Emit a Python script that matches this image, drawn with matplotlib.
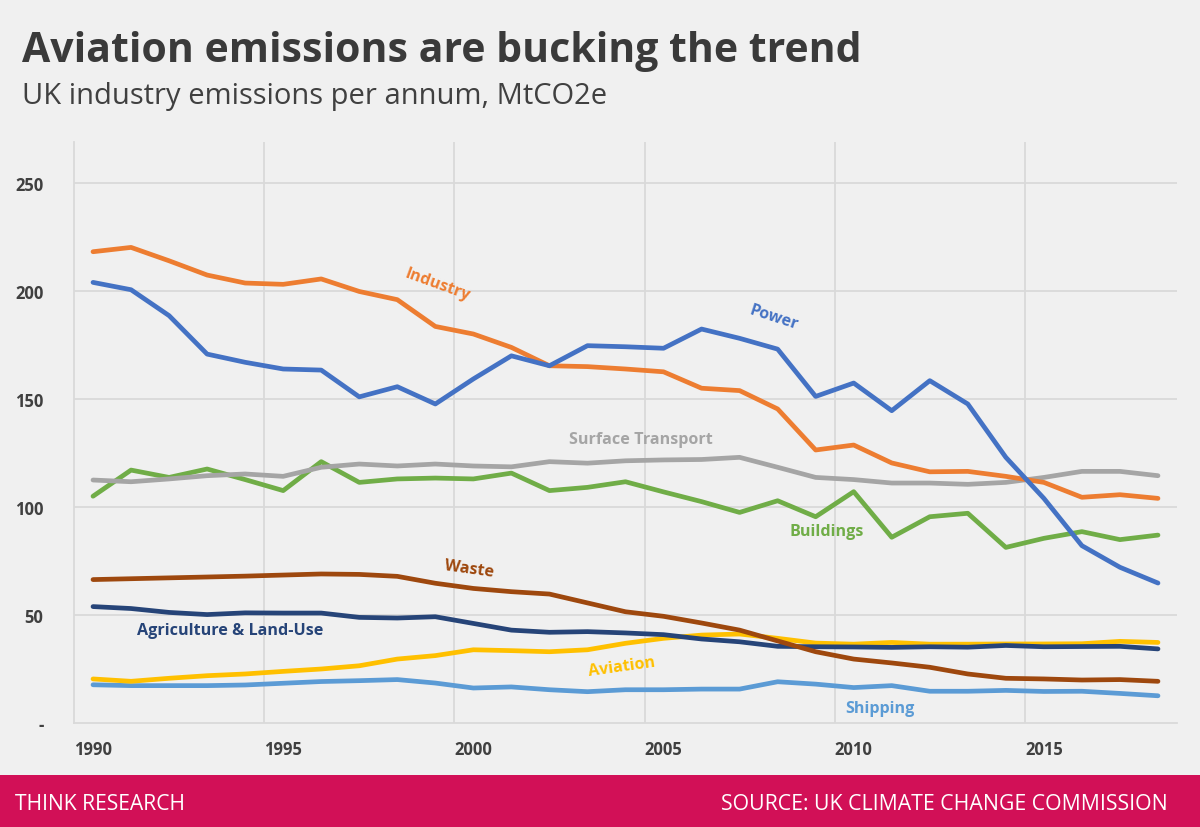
import matplotlib
matplotlib.use("Agg")
import matplotlib.pyplot as plt
from matplotlib.patches import Rectangle

# Data (MtCO2e)
years = list(range(1990, 2019))

industry = [218.2, 220.2, 214, 207.4, 203.7, 203.1, 205.6, 199.8, 196, 183.6,
            180.1, 173.9, 165.4, 165, 163.9, 162.6, 155, 153.9, 145.4, 126.4,
            128.7, 120.4, 116.3, 116.5, 114.2, 111.4, 104.5, 105.7, 104]
power = [204, 200.6, 188.6, 170.8, 167, 163.9, 163.4, 151, 155.7, 147.7,
         159.3, 170, 165.4, 174.7, 174.2, 173.5, 182.4, 178.1, 173.1, 151.2,
         157.4, 144.6, 158.5, 147.7, 123, 104, 82.1, 72.1, 64.8]
surface_transport = [112.5, 111.7, 113, 114.5, 115.3, 114.2, 118.4, 119.9, 119, 119.9,
                     119, 118.6, 121, 120.3, 121.4, 121.8, 122, 123, 118.4, 113.7,
                     112.7, 111.1, 111.1, 110.5, 111.4, 113.7, 116.5, 116.5, 114.5]
buildings = [105, 117.1, 113.7, 117.6, 112.7, 107.6, 121, 111.4, 113, 113.4,
             113, 115.7, 107.6, 109.1, 111.7, 107, 102.5, 97.5, 102.9, 95.5,
             107.1, 86, 95.5, 97.1, 81.3, 85.5, 88.6, 84.9, 87]
waste = [66.4, 66.8, 67.2, 67.6, 68, 68.5, 69, 68.8, 67.9, 64.7,
         62.3, 60.8, 59.7, 55.6, 51.5, 49.4, 46.3, 43, 38, 33,
         29.6, 27.8, 25.8, 22.7, 20.7, 20.4, 19.9, 20.1, 19.3]
agriculture = [53.9, 53, 51.2, 50.2, 51, 50.9, 50.9, 48.9, 48.6, 49.2,
               46.1, 43, 42, 42.3, 41.7, 40.9, 38.9, 37.6, 35.5, 35.3,
               35.2, 35, 35.3, 35.1, 35.9, 35.3, 35.4, 35.5, 34.3]
aviation = [20.4, 19.3, 20.7, 21.9, 22.7, 23.9, 25, 26.5, 29.6, 31.2,
            33.9, 33.5, 33, 33.9, 36.9, 39.2, 40.7, 41.2, 39.2, 37,
            36.5, 37.3, 36.5, 36.5, 36.6, 36.6, 36.7, 37.8, 37.3]
shipping = [17.7, 17.3, 17.3, 17.3, 17.6, 18.4, 19.2, 19.6, 20.1, 18.5,
            16.2, 16.7, 15.4, 14.5, 15.4, 15.4, 15.7, 15.7, 19.1, 18,
            16.4, 17.3, 14.7, 14.7, 15.1, 14.6, 14.7, 13.7, 12.6]

y_ticks = [0, 50, 100, 150, 200, 250]
y_tick_labels = ["-", "50", "100", "150", "200", "250"]
x_ticks = [1990, 1995, 2000, 2005, 2010, 2015]

plt.rcParams['font.family'] = ['Open Sans', 'DejaVu Sans']

bg = "#f0f0f0"
fig = plt.figure(figsize=(12, 8.28), dpi=100, facecolor=bg)
ax = fig.add_axes([74 / 1200, 104 / 828, 1103 / 1200, 581 / 828])
ax.set_facecolor(bg)

# series: (values, colour, label, label x, label y, rotation)
series = [
    (shipping, "#5b9bd5", "Shipping", 2010.7, 7, 0),
    (aviation, "#ffc000", "Aviation", 2003.9, 26.4, 8),
    (agriculture, "#264478", "Agriculture & Land-Use", 1993.6, 43, 0),
    (waste, "#9e480e", "Waste", 1999.9, 71.5, -8),
    (buildings, "#70ad47", "Buildings", 2009.3, 89, 0),
    (surface_transport, "#a5a5a5", "Surface Transport", 2004.4, 131.5, 0),
    (industry, "#ed7d31", "Industry", 1999.05, 203, -20),
    (power, "#4472c4", "Power", 2007.9, 188, -18),
]

for vals, col, name, lx, ly, rot in series:
    ax.plot(years, vals, color=col, lw=3.4, solid_capstyle='round',
            solid_joinstyle='round', zorder=3)
    ax.text(lx, ly, name, color=col, fontsize=11.6, fontweight='bold',
            rotation=rot, ha='center', va='center', zorder=4)

ax.set_xlim(1989.5, 2018.5)
ax.set_ylim(0, 269)
ax.set_yticks(y_ticks)
ax.set_yticklabels(y_tick_labels)
ax.set_xticks(x_ticks)
ax.set_xticklabels([str(x) for x in x_ticks])

# gridlines sit between categories, Excel style
for gx in [1994.5, 1999.5, 2004.5, 2009.5, 2014.5]:
    ax.axvline(gx, color="#d9d9d9", lw=1.3, zorder=1)
for gy in y_ticks[1:]:
    ax.axhline(gy, color="#d9d9d9", lw=1.3, zorder=1)

for s in ['top', 'right']:
    ax.spines[s].set_visible(False)
ax.spines['left'].set_color("#d9d9d9")
ax.spines['bottom'].set_color("#d9d9d9")
ax.spines['left'].set_linewidth(1.3)
ax.spines['bottom'].set_linewidth(1.3)
ax.tick_params(length=0, labelsize=12, colors="#404040", pad=12)
ax.tick_params(axis='y', pad=22)
for lab in ax.get_xticklabels() + ax.get_yticklabels():
    lab.set_fontweight('bold')

# titles
fig.text(22 / 1200, 1 - 62 / 828, "Aviation emissions are bucking the trend",
         fontsize=29.5, fontweight='bold', color="#3a3a3a", va='baseline')
fig.text(22 / 1200, 1 - 104 / 828, "UK industry emissions per annum, MtCO2e",
         fontsize=21, color="#404040", va='baseline')

# footer band
fig.patches.append(Rectangle((0, 0), 1, 52 / 828, transform=fig.transFigure,
                             facecolor="#d21057", edgecolor='none'))
fig.text(15 / 1200, 1 - 810 / 828, "THINK RESEARCH", color="white",
         fontsize=15.2, va='baseline')
fig.text(1168 / 1200, 1 - 810 / 828, "SOURCE: UK CLIMATE CHANGE COMMISSION",
         color="white", fontsize=15.3, va='baseline', ha='right')

fig.savefig("out.png", dpi=100, facecolor=bg)
